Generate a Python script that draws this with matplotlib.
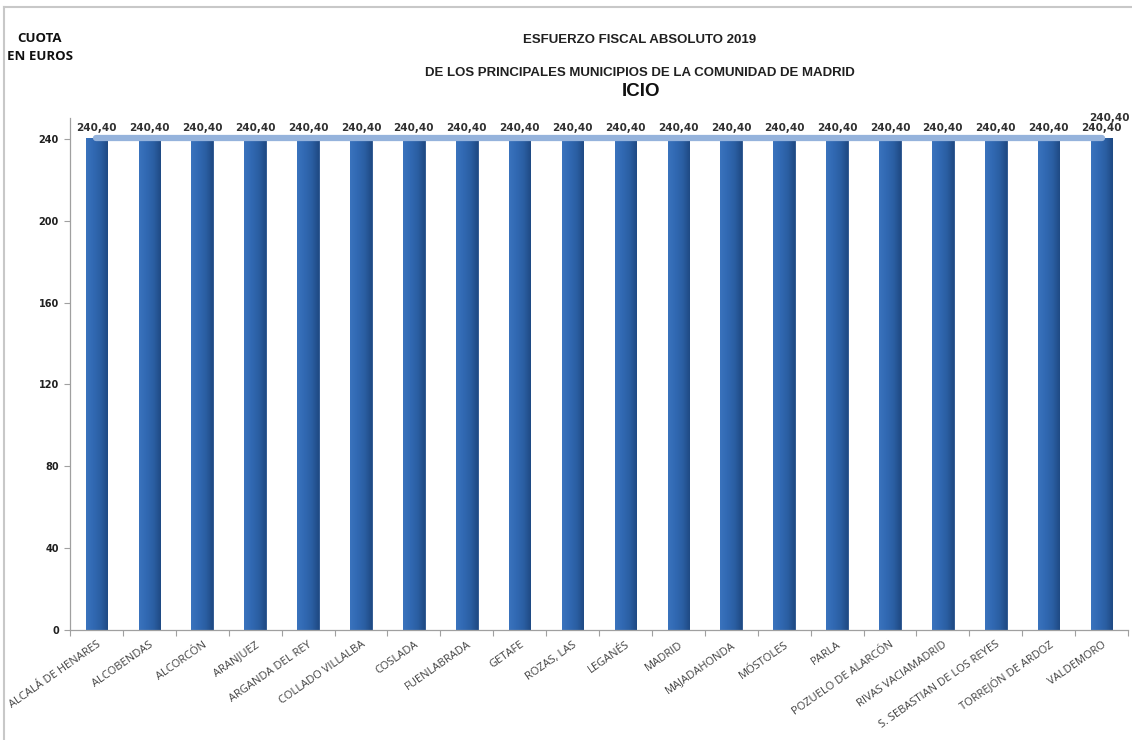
import matplotlib
matplotlib.use("Agg")
import matplotlib.pyplot as plt
import numpy as np
from matplotlib.lines import Line2D
from matplotlib.colors import LinearSegmentedColormap

municipios = ["ALCALÁ DE HENARES", "ALCOBENDAS", "ALCORCÓN", "ARANJUEZ", "ARGANDA DEL REY",
              "COLLADO VILLALBA", "COSLADA", "FUENLABRADA", "GETAFE", "ROZAS, LAS",
              "LEGANÉS", "MADRID", "MAJADAHONDA", "MÓSTOLES", "PARLA",
              "POZUELO DE ALARCÓN", "RIVAS VACIAMADRID", "S. SEBASTIAN DE LOS REYES",
              "TORREJÓN DE ARDOZ", "VALDEMORO"]
cuota = [240.40] * 20
media = [240.40] * 20
yticks = [0, 40, 80, 120, 160, 200, 240]

W, H = 1132, 740
fig = plt.figure(figsize=(W / 100, H / 100), dpi=100)
fig.patch.set_facecolor("white")

# figure border (top & left)
fig.add_artist(Line2D([4 / W, 1], [1 - 7 / H, 1 - 7 / H], color="#c8c8c8", lw=1.5))
fig.add_artist(Line2D([4 / W, 4 / W], [0, 1 - 7 / H], color="#c8c8c8", lw=1.5))

ax = fig.add_axes([70 / W, 1 - 629.5 / H, (1128 - 70) / W, (629.5 - 118) / H])
x = np.arange(len(municipios))
bw = 0.41
bars = ax.bar(x, cuota, width=bw, color="#2d62a8", edgecolor="#244f8a", linewidth=0.6, zorder=2)

# cylinder shading
grad = np.linspace(0, 1, 64)
cmap = LinearSegmentedColormap.from_list("cyl", ["#3a73bd", "#3169b3", "#2b5fa3", "#1f4a84"])
for b in bars:
    x0 = b.get_x(); w = b.get_width(); h = b.get_height()
    im = ax.imshow(grad[np.newaxis, :], cmap=cmap, extent=[x0, x0 + w, 0, h],
                   aspect="auto", zorder=2.1, interpolation="bilinear")
    im.set_clip_path(b)

# average line
ax.plot(x, media, color="#95b3dc", lw=4.5, solid_capstyle="round", zorder=3)

for xi, v in zip(x, cuota):
    ax.text(xi, v + 2.5, f"{v:.2f}".replace(".", ","), ha="center", va="bottom",
            fontsize=7.5, fontweight="bold", color="#303030", zorder=4)
ax.text(x[-1] + 0.15, media[-1] + 7.5, f"{media[-1]:.2f}".replace(".", ","), ha="center",
        va="bottom", fontsize=7.5, fontweight="bold", color="#303030", zorder=4)

ax.set_xlim(-0.5, len(municipios) - 0.5)
ax.set_ylim(0, 250.4)
ax.set_yticks(yticks)
ax.set_yticklabels([str(t) for t in yticks], fontsize=7, fontweight="bold", color="#202020")
ax.set_xticks(np.arange(len(municipios) + 1) - 0.5, minor=False)
ax.set_xticklabels([])
ax.set_xticks(x, minor=True)
ax.set_xticklabels(municipios, minor=True, rotation=35, ha="right", rotation_mode="anchor",
                   fontsize=8, color="#404040", family="Open Sans")
ax.tick_params(axis="x", which="minor", length=0, pad=7)
ax.tick_params(axis="x", which="major", length=4, color="#a0a0a0")
ax.tick_params(axis="y", length=4, color="#a0a0a0", pad=4)
for s in ["top", "right"]:
    ax.spines[s].set_visible(False)
for s in ["left", "bottom"]:
    ax.spines[s].set_color("#a0a0a0")
    ax.spines[s].set_linewidth(0.9)

fig.text(640 / W, 1 - 40 / H, "ESFUERZO FISCAL ABSOLUTO 2019", ha="center", va="center",
         fontsize=9.5, fontweight="bold", family="Liberation Sans", color="#202020")
fig.text(640 / W, 1 - 73 / H, "DE LOS PRINCIPALES MUNICIPIOS DE LA COMUNIDAD DE MADRID",
         ha="center", va="center", fontsize=9.5, fontweight="bold", family="Liberation Sans",
         color="#202020")
fig.text(641 / W, 1 - 91 / H, "ICIO", ha="center", va="center", fontsize=13.5,
         fontweight="bold", family="Liberation Sans", color="#101010")
fig.text(40 / W, 1 - 38 / H, "CUOTA", ha="center", va="center", fontsize=9.5,
         fontweight="bold", family="Open Sans", color="#101010")
fig.text(40 / W, 1 - 57 / H, "EN EUROS", ha="center", va="center", fontsize=9.5,
         fontweight="bold", family="Open Sans", color="#101010")

fig.savefig("out.png", dpi=100)
